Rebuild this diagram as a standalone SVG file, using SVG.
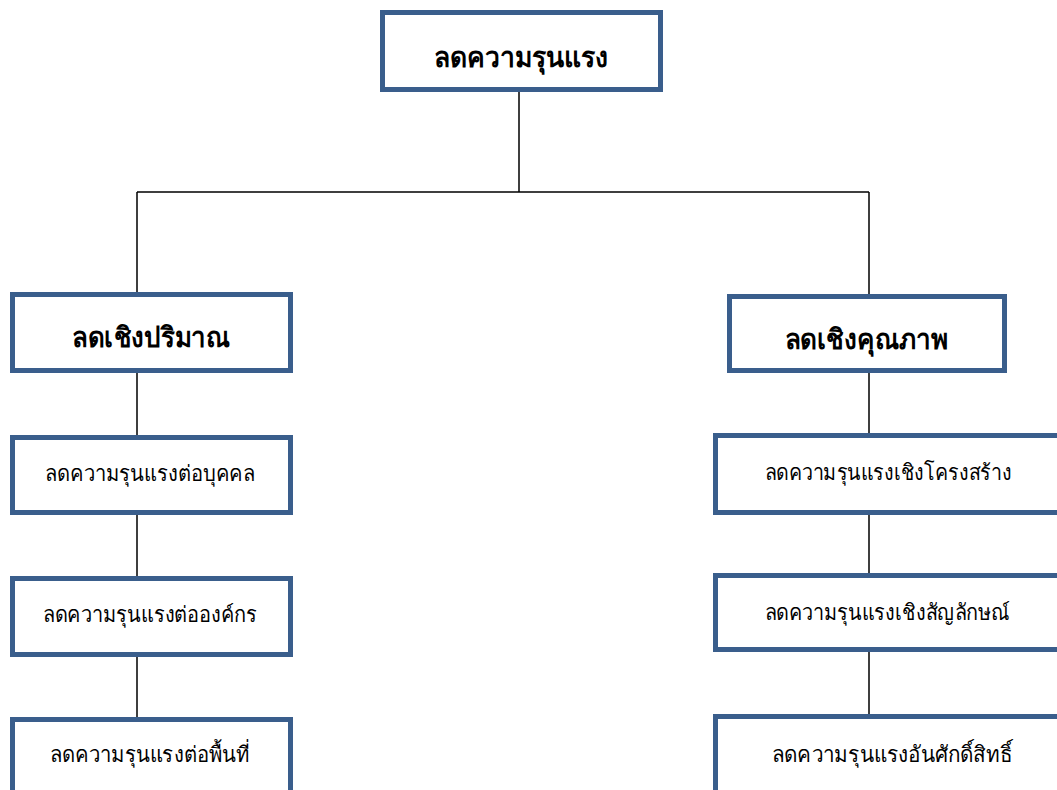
<svg xmlns="http://www.w3.org/2000/svg" width="1057" height="790" viewBox="0 0 1057 790">
<style>
.box{fill:#fff;stroke:#3A5E8C;stroke-width:5}
.t1{font-family:"Liberation Serif","DejaVu Serif",serif;font-weight:bold;font-size:28px;text-anchor:middle;fill:#000}
.t2{font-family:"Liberation Serif","DejaVu Serif",serif;font-size:22px;text-anchor:middle;fill:#000}
.ln{stroke:#000;stroke-width:1.5;fill:none}
</style>
<rect width="1057" height="790" fill="#fff"/>
<g id="connectors">
<path class="ln" d="M519,90 V192 M137,192 H869 M137,192 V292 M869,192 V294"/>
<path class="ln" d="M137,372 V435 M137,515 V576 M137,657 V717"/>
<path class="ln" d="M869,373 V433 M869,515 V573 M869,652 V714"/>
</g>
<g id="root"><rect class="box" x="382.5" y="12.5" width="278" height="77"/><text class="t1" x="521" y="67" textLength="175" lengthAdjust="spacingAndGlyphs">ลดความรุนแรง</text></g>
<g id="quantity"><rect class="box" x="12.5" y="294.5" width="278" height="76"/><text class="t1" x="151" y="347" textLength="158" lengthAdjust="spacingAndGlyphs">ลดเชิงปริมาณ</text></g>
<g id="quality"><rect class="box" x="729.5" y="296.5" width="275" height="74"/><text class="t1" x="866" y="349" textLength="163" lengthAdjust="spacingAndGlyphs">ลดเชิงคุณภาพ</text></g>
<g id="person"><rect class="box" x="12.5" y="437.5" width="278" height="75"/><text class="t2" x="150" y="481" textLength="210" lengthAdjust="spacingAndGlyphs">ลดความรุนแรงต่อบุคคล</text></g>
<g id="organization"><rect class="box" x="12.5" y="578.5" width="278" height="76"/><text class="t2" x="150" y="622" textLength="214" lengthAdjust="spacingAndGlyphs">ลดความรุนแรงต่อองค์กร</text></g>
<g id="area"><rect class="box" x="12.5" y="719.5" width="278" height="90"/><text class="t2" x="150" y="762" textLength="200" lengthAdjust="spacingAndGlyphs">ลดความรุนแรงต่อพื้นที่</text></g>
<g id="structural"><rect class="box" x="715.5" y="435.5" width="360" height="77"/><text class="t2" x="888" y="480" textLength="247" lengthAdjust="spacingAndGlyphs">ลดความรุนแรงเชิงโครงสร้าง</text></g>
<g id="symbolic"><rect class="box" x="715.5" y="575.5" width="360" height="74"/><text class="t2" x="887" y="620" textLength="245" lengthAdjust="spacingAndGlyphs">ลดความรุนแรงเชิงสัญลักษณ์</text></g>
<g id="dignity"><rect class="box" x="715.5" y="716.5" width="360" height="90"/><text class="t2" x="892" y="762" textLength="240" lengthAdjust="spacingAndGlyphs">ลดความรุนแรงอันศักดิ์สิทธิ์</text></g>
</svg>
